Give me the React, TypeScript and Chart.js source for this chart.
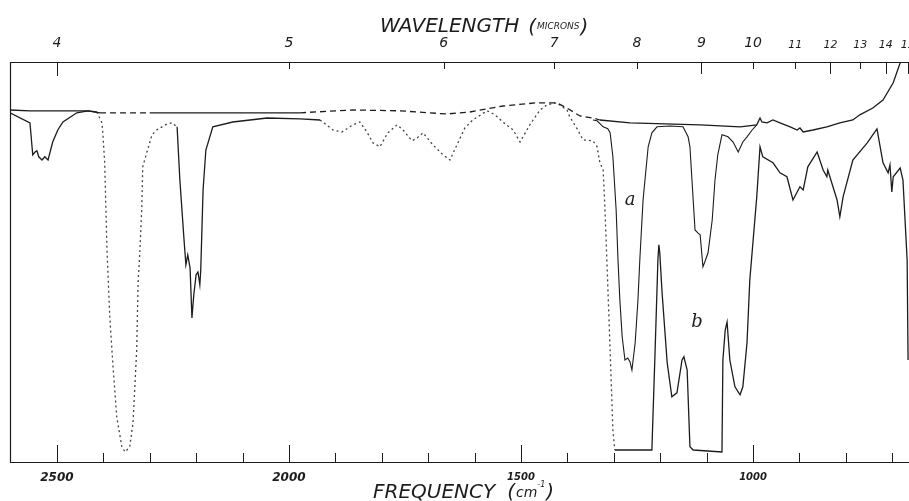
import React, { useEffect, useRef } from "react";
import { Chart, registerables } from "chart.js";

Chart.register(...registerables);

// ---- axis values ----
const FREQ_MIN = 664;
const FREQ_MAX = 2601;
const FREQ_TICKS = [2500, 2400, 2300, 2200, 2100, 2000, 1900, 1800, 1700, 1600, 1500, 1400, 1300, 1200, 1100, 1000, 900, 800, 700];
const WAVELENGTHS = [4, 5, 6, 7, 8, 9, 10, 11, 12, 13, 14, 15];

// ---- upper (reference) trace: frequency (cm^-1) and transmittance (%) ----
const TOP_FREQ = [2601, 2558, 2494, 2433, 2407, 2300, 2192, 2084, 1976, 1862, 1761, 1660, 1610, 1539, 1466, 1423, 1401, 1373, 1345, 1330, 1265, 1114, 1028, 992, 985, 981, 970, 957, 942, 920, 905, 899, 892, 871, 841, 813, 785, 770, 742, 720, 698, 683, 677, 668];
const TOP_T = [88.0, 87.8, 87.8, 87.8, 87.3, 87.3, 87.3, 87.3, 87.3, 88.0, 87.8, 87.0, 87.5, 89.0, 89.8, 89.8, 88.5, 86.5, 86.0, 85.5, 84.8, 84.3, 83.8, 84.3, 86.0, 85.0, 84.8, 85.5, 84.8, 83.8, 83.0, 83.5, 82.5, 83.0, 83.8, 84.8, 85.5, 86.8, 88.5, 90.5, 94.8, 99.8, 101.0, 103.0];
const TOP_DASHED = [[2410, 2300], [1950, 1335]];

// ---- spectrum b ----
const B_FREQ = [2601, 2558, 2552, 2547, 2543, 2539, 2532, 2526, 2519, 2509, 2498, 2487, 2457, 2433, 2414,
  2403, 2401, 2397, 2392, 2386, 2379, 2371, 2360, 2353, 2343, 2336, 2328, 2325, 2321, 2317, 2315, 2306, 2295, 2285, 2263, 2252, 2241,
  2235, 2226, 2222, 2218, 2213, 2209, 2205, 2200, 2196, 2192, 2190, 2185, 2179, 2164, 2121, 2047, 1976, 1933,
  1905, 1886, 1862, 1847, 1832, 1819, 1804, 1787, 1767, 1754, 1735, 1724, 1711, 1690, 1668, 1653, 1638, 1621, 1604, 1573, 1556, 1539, 1517, 1502, 1481, 1459, 1444, 1423, 1401, 1395, 1379, 1366, 1345, 1336, 1330, 1323, 1319, 1315, 1308, 1302, 1298,
  1265, 1218, 1211, 1205, 1203, 1201, 1196, 1185, 1175, 1164, 1153, 1149, 1142, 1136, 1129, 1067, 1065, 1060, 1056, 1050, 1039, 1028, 1022, 1013, 1007, 992, 985, 979, 957, 942, 927, 914, 899, 892, 882, 862, 849, 841, 839, 819, 813, 806, 785, 754, 733, 720, 709, 705, 701, 698, 683, 677, 668, 666];
const B_T = [87.3, 84.8, 76.8, 77.5, 77.8, 76.3, 75.5, 76.3, 75.5, 80.0, 83.0, 85.0, 87.3, 87.8, 87.5,
  84.8, 82.3, 74.8, 53.0, 36.3, 23.8, 11.3, 3.8, 2.5, 3.8, 9.8, 28.0, 44.8, 53.0, 63.8, 73.8, 77.5, 81.8, 83.0, 84.5, 84.8, 83.8,
  70.5, 55.5, 49.3, 51.8, 48.5, 36.0, 41.8, 46.8, 47.5, 44.3, 48.0, 68.0, 78.0, 83.8, 85.0, 86.0, 85.8, 85.5,
  83.0, 82.5, 84.3, 85.0, 82.5, 79.8, 78.8, 82.3, 84.3, 83.0, 80.3, 81.0, 82.3, 79.3, 76.8, 75.5, 79.3, 83.5, 85.5, 87.8, 86.8, 85.0, 83.0, 80.0, 84.3, 88.0, 89.3, 89.8, 88.0, 86.3, 83.3, 80.5, 80.3, 78.8, 74.8, 73.0, 63.0, 50.5, 28.0, 8.0, 3.0,
  3.0, 3.0, 28.0, 50.5, 54.3, 52.3, 42.3, 24.8, 16.3, 17.3, 25.5, 26.3, 23.0, 3.8, 3.0, 2.5, 25.5, 33.0, 35.0, 25.5, 18.8, 16.8, 18.8, 29.8, 45.5, 66.3, 78.8, 76.3, 74.8, 72.3, 71.3, 65.5, 68.8, 68.0, 73.8, 77.5, 73.0, 71.3, 73.0, 65.5, 61.3, 66.3, 75.5, 79.8, 83.3, 74.8, 72.3, 74.3, 67.5, 71.3, 73.5, 70.5, 50.5, 25.5];
const B_DOTTED = [[2414, 2243], [1935, 1300]];

// ---- spectrum a ----
const A_FREQ = [1345, 1336, 1323, 1313, 1308, 1302, 1295, 1291, 1287, 1282, 1276, 1270, 1265, 1261, 1254, 1248, 1244, 1237, 1226, 1218, 1207, 1179, 1151, 1140, 1136, 1129, 1125, 1119, 1114, 1108, 1104, 1097, 1088, 1082, 1076, 1067, 1054, 1043, 1032, 1022, 1013, 1002, 992];
const A_T = [85.5, 85.3, 83.8, 83.3, 82.3, 76.3, 63.0, 50.5, 40.5, 31.3, 25.5, 26.0, 25.0, 23.0, 29.8, 40.5, 50.5, 65.5, 78.8, 82.3, 83.8, 84.0, 83.8, 81.3, 78.8, 65.5, 58.0, 57.3, 56.8, 48.8, 50.0, 52.3, 60.5, 70.5, 76.8, 81.8, 81.3, 80.0, 77.5, 80.0, 81.3, 83.0, 84.3];

// ---- curve labels ----
const CURVE_LABELS = [
  { text: "a", freq: 1265, t: 65.5 },
  { text: "b", freq: 1121, t: 35 },
];

const toPoints = (xs: number[], ys: number[]) => xs.map((x, i) => ({ x, y: ys[i] }));
const inRanges = (v: number, ranges: number[][]) => ranges.some(([hi, lo]) => v <= hi && v >= lo);

const INK = "#1c1c1c";

const decorPlugin = {
  id: "decor",
  afterDraw(chart: any) {
    const ctx = chart.ctx as CanvasRenderingContext2D;
    const { left, top, right, bottom } = chart.chartArea;
    const xs = chart.scales.x;
    const ys = chart.scales.y;
    ctx.save();
    ctx.strokeStyle = INK;
    ctx.fillStyle = INK;
    ctx.lineWidth = 1.2;
    // frame
    ctx.beginPath();
    ctx.moveTo(left + 0.5, top);
    ctx.lineTo(left + 0.5, bottom);
    ctx.moveTo(left, top + 0.5);
    ctx.lineTo(right + 2, top + 0.5);
    ctx.moveTo(left, bottom + 0.5);
    ctx.lineTo(right + 2, bottom + 0.5);
    ctx.stroke();
    // bottom ticks (inward)
    ctx.lineWidth = 1;
    ctx.beginPath();
    FREQ_TICKS.forEach((f) => {
      const px = Math.round(xs.getPixelForValue(f)) + 0.5;
      const len = f % 500 === 0 ? 17 : 9;
      ctx.moveTo(px, bottom);
      ctx.lineTo(px, bottom - len);
    });
    // top ticks (inward)
    WAVELENGTHS.forEach((w) => {
      const px = Math.round(xs.getPixelForValue(10000 / w)) + 0.5;
      const len = w === 4 ? 14 : [9, 12, 14, 15].includes(w) ? 12 : 7;
      ctx.moveTo(px, top);
      ctx.lineTo(px, top + len);
    });
    ctx.stroke();
    // curve labels
    ctx.font = 'italic 18px "DejaVu Serif"';
    ctx.textAlign = "center";
    ctx.textBaseline = "middle";
    CURVE_LABELS.forEach((l) => {
      ctx.fillText(l.text, xs.getPixelForValue(l.freq), ys.getPixelForValue(l.t));
    });
    // axis titles
    ctx.textAlign = "left";
    ctx.textBaseline = "alphabetic";
    const big = 'italic 200 20px "DejaVu Sans"';
    const small = 'italic 200 9px "DejaVu Sans"';
    let x = 380;
    ctx.font = big;
    ctx.fillText("WAVELENGTH", x, 32);
    x += ctx.measureText("WAVELENGTH").width + 9;
    ctx.fillText("(", x, 33);
    x += ctx.measureText("(").width + 1;
    ctx.font = small;
    ctx.fillText("MICRONS", x, 29);
    x += ctx.measureText("MICRONS").width + 1;
    ctx.font = big;
    ctx.fillText(")", x, 33);

    x = 373;
    ctx.font = big;
    ctx.fillText("FREQUENCY", x, 498);
    x += ctx.measureText("FREQUENCY").width + 12;
    ctx.fillText("(", x, 498);
    x += ctx.measureText("(").width + 1;
    ctx.font = 'italic 200 14px "DejaVu Sans"';
    ctx.fillText("cm", x, 497);
    x += ctx.measureText("cm").width;
    ctx.font = 'italic 200 8px "DejaVu Sans"';
    ctx.fillText("-1", x, 487);
    x += ctx.measureText("-1").width + 1;
    ctx.font = big;
    ctx.fillText(")", x, 498);
    ctx.restore();
  },
};

export default function App() {
  const ref = useRef<HTMLCanvasElement | null>(null);
  useEffect(() => {
    document.body.style.margin = "0";
    const canvas = ref.current;
    if (!canvas) return;
    const lineBase = {
      borderColor: INK,
      borderWidth: 1.3,
      pointRadius: 0,
      fill: false,
      tension: 0,
    };
    const noPad = (s: any, h: number) => {
      s.height = h;
      s.paddingLeft = 0;
      s.paddingRight = 0;
    };
    const chart = new Chart(canvas, {
      type: "line",
      data: {
        datasets: [
          {
            ...lineBase,
            label: "reference",
            data: toPoints(TOP_FREQ, TOP_T),
            segment: {
              borderDash: (c: any) => (inRanges((c.p0.parsed.x + c.p1.parsed.x) / 2, TOP_DASHED) ? [6, 4] : undefined),
            },
          } as any,
          {
            ...lineBase,
            label: "b",
            data: toPoints(B_FREQ, B_T),
            segment: {
              borderDash: (c: any) => (inRanges((c.p0.parsed.x + c.p1.parsed.x) / 2, B_DOTTED) ? [2, 3] : undefined),
              borderColor: (c: any) => (inRanges((c.p0.parsed.x + c.p1.parsed.x) / 2, B_DOTTED) ? "#444" : undefined),
            },
          } as any,
          {
            ...lineBase,
            borderWidth: 1.1,
            label: "a",
            data: toPoints(A_FREQ, A_T),
          } as any,
        ],
      },
      options: {
        animation: false,
        responsive: false,
        parsing: false as any,
        layout: { padding: { left: 10, right: 0, top: 0, bottom: 0 } },
        plugins: { legend: { display: false }, tooltip: { enabled: false } },
        scales: {
          x: {
            type: "linear",
            position: "bottom",
            reverse: true,
            min: FREQ_MIN,
            max: FREQ_MAX,
            grid: { display: false, drawTicks: false },
            border: { display: false },
            afterBuildTicks: (s: any) => {
              s.ticks = FREQ_TICKS.map((v) => ({ value: v }));
            },
            afterFit: (s: any) => noPad(s, 39),
            ticks: {
              autoSkip: false,
              maxRotation: 0,
              padding: 9,
              color: INK,
              font: (c: any) => ({
                family: '"DejaVu Sans"',
                style: "italic",
                weight: "bold",
                size: c.tick && c.tick.value > 1750 ? 12 : 10,
              }),
              callback: (v: any) => (Number(v) % 500 === 0 ? String(v) : ""),
            },
          },
          x2: {
            type: "linear",
            position: "top",
            reverse: true,
            min: FREQ_MIN,
            max: FREQ_MAX,
            grid: { display: false, drawTicks: false },
            border: { display: false },
            afterBuildTicks: (s: any) => {
              s.ticks = WAVELENGTHS.map((w) => ({ value: 10000 / w }));
            },
            afterFit: (s: any) => noPad(s, 62),
            ticks: {
              autoSkip: false,
              maxRotation: 0,
              padding: 10,
              color: INK,
              font: (c: any) => ({
                family: '"DejaVu Sans"',
                style: "italic",
                size: c.tick && c.tick.value < 950 ? 11 : 14,
              }),
              callback: (v: any) => String(Math.round(10000 / Number(v))),
            },
          },
          y: {
            type: "linear",
            display: false,
            min: 0,
            max: 100,
          },
        },
      },
      plugins: [decorPlugin],
    } as any);
    return () => chart.destroy();
  }, []);
  return (
    <div style={{ width: 909, height: 501, position: "relative", background: "#fff" }}>
      <canvas ref={ref} width={909} height={501} />
    </div>
  );
}
